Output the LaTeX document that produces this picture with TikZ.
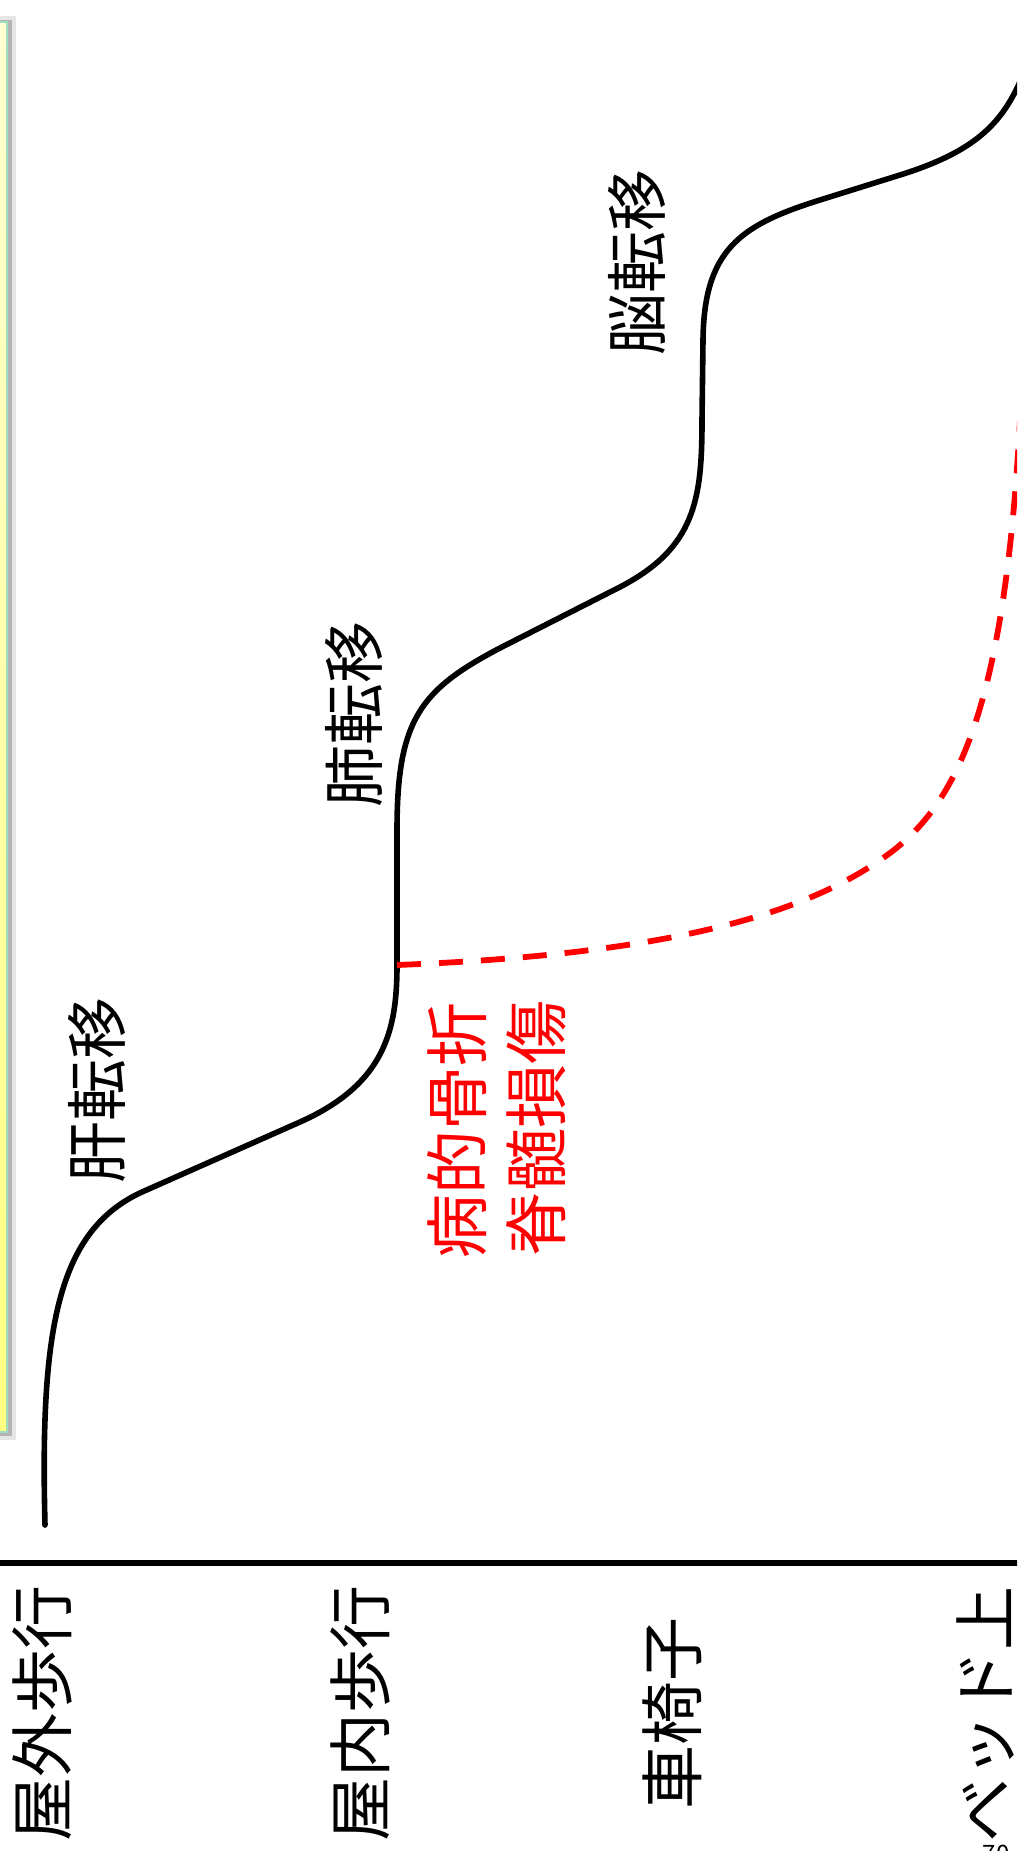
\documentclass[tikz,border=0pt]{standalone}
\usepackage{fontspec}
\setmainfont{Noto Sans CJK JP}
\definecolor{boxgreen}{HTML}{9FDCC0}
\definecolor{boxtop}{HTML}{FFFFD0}
\definecolor{boxbot}{HTML}{FFFF80}
\definecolor{shlight}{HTML}{E6E6E6}
\definecolor{shdark}{HTML}{B4B4B4}
\definecolor{pgred}{HTML}{FF0000}
\begin{document}
\begin{tikzpicture}[x=0.5pt,y=-0.5pt,
  lvl/.style={rotate=90,inner sep=0pt,font=\fontsize{32pt}{32pt}\selectfont},
  met/.style={rotate=90,inner sep=0pt,font=\fontsize{31pt}{31pt}\selectfont},
  redlab/.style={rotate=90,inner sep=0pt,text=pgred,font=\fontsize{32pt}{32pt}\selectfont},
  course/.style={line width=2.8pt,black,line cap=round},
  fracture/.style={line width=2.9pt,pgred,dash pattern=on 12pt off 9pt}]
\useasboundingbox (0,0) rectangle (1017,1851);
\clip (0,0) rectangle (1017,1851);
% yellow box with shadow
\fill[shlight] (-40,16) rectangle (16,1440);
\fill[shdark] (-40,20) rectangle (12,1436);
\shade[top color=boxtop,bottom color=boxbot,draw=boxgreen,line width=1pt] (-40,22) rectangle (7,1432);
% axis line
\coordinate (axl) at (0,1563);
\coordinate (axr) at (1030,1563);
\draw[line width=3pt] (axl) -- (axr);
% black course
\coordinate (c0) at (45,1525);
\coordinate (cr) at (397,965);
\draw[course] (c0) .. controls (40,1330) and (57,1231) .. (142,1192)
  -- (300,1122) .. controls (385,1084) and (397,1030) .. (cr)
  -- (397,830) .. controls (397,720) and (420,690) .. (500,648)
  -- (620,587) .. controls (695,548) and (702,500) .. (702,420)
  -- (703,340) .. controls (704,250) and (740,225) .. (820,200)
  -- (900,175) .. controls (980,150) and (1005,120) .. (1025,70);
% red dashed course
\draw[fracture] (cr) .. controls (650,955) and (800,920) .. (890,853)
  .. controls (960,801) and (1005,700) .. (1020,420);
% curve labels
\node[met] (liver) at (97,1090) {肝転移};
\node[met] (lung) at (354,714) {肺転移};
\node[met] (brain) at (637,262) {脳転移};
\node[redlab] (frac) at (457,1130) {病的骨折};
\node[redlab] (spine) at (536,1128) {脊髄損傷};
% level labels
\node[lvl] (outdoor) at (42,1713) {屋外歩行};
\node[lvl] (indoor) at (360,1713) {屋内歩行};
\node[lvl] (wheel) at (672,1713) {車椅子};
\node[lvl] (bed) at (985,1714) {ベッド上};
% page number (cut off at the lower edge, as in the reference)
\node[font=\fontsize{12pt}{12pt}\selectfont,anchor=north,inner sep=0pt] (pg) at (996,1845) {70};
\end{tikzpicture}
\end{document}
